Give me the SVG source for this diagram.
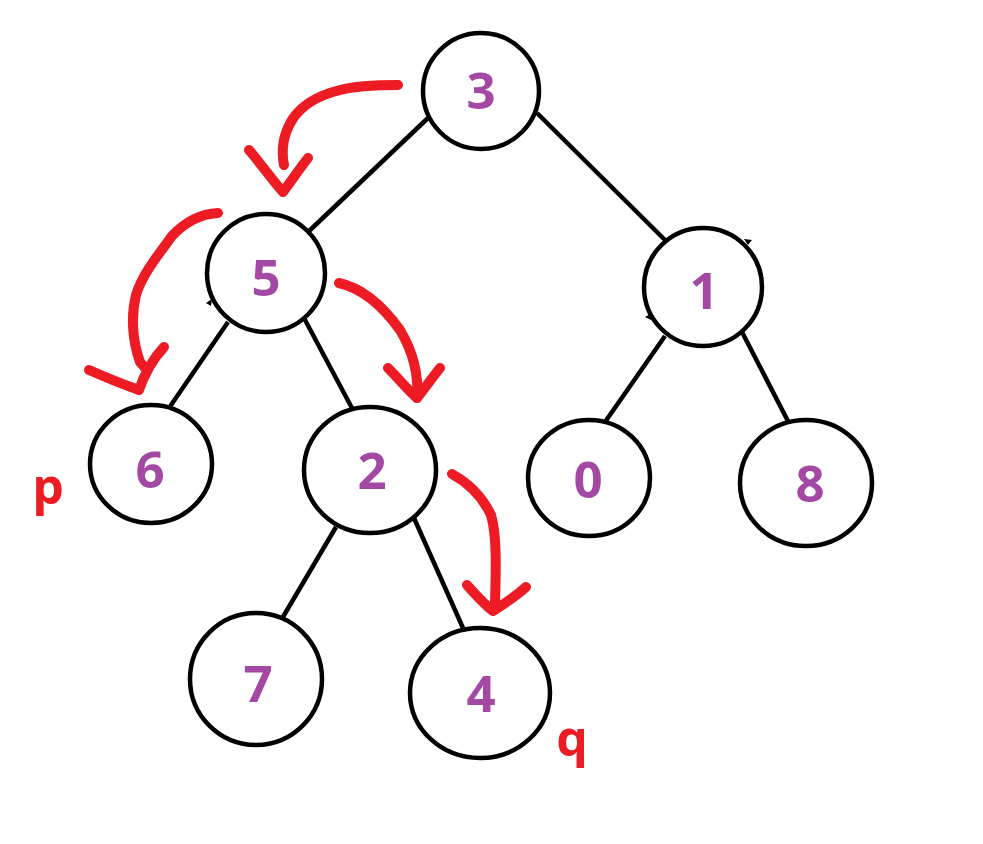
<svg xmlns="http://www.w3.org/2000/svg" width="983" height="844" viewBox="0 0 983 844">
<style>
.node{fill:#fff;stroke:#000;stroke-width:4.5}
.edge{stroke:#000;stroke-width:4.5;fill:none;stroke-linecap:butt}
.lbl{font-family:"Open Sans","Noto Sans",sans-serif;font-weight:700;font-size:51px;fill:#A349A4;text-anchor:middle}
.red{stroke:#ED1C24;stroke-width:10;fill:none;stroke-linecap:round;stroke-linejoin:round}
.pq{font-family:"Open Sans","Noto Sans",sans-serif;font-weight:700;font-size:50px;fill:#ED1C24;text-anchor:middle}
</style>
<rect width="983" height="844" fill="#fff"/>
<g id="connectors">
<line class="edge" x1="428" y1="118" x2="307" y2="233"/>
<line class="edge" x1="537" y1="113" x2="665" y2="240"/>
<line class="edge" x1="228" y1="322" x2="169" y2="408"/>
<line class="edge" x1="304" y1="318" x2="353" y2="410"/>
<line class="edge" x1="336" y1="527" x2="280" y2="622"/>
<line class="edge" x1="414" y1="518" x2="463" y2="628"/>
<line class="edge" x1="665" y1="336" x2="605" y2="422"/>
<line class="edge" x1="742" y1="332" x2="791" y2="427"/>
<path d="M206 303 l6 -4 l-1 7 z M645 317 l7 -4 l-1 7 z M744 239 l8 1 l-4 5 z" fill="#000"/>
</g>
<g id="node-3"><ellipse class="node" cx="481" cy="91" rx="58" ry="58"/><text class="lbl" x="481" y="109">3</text></g>
<g id="node-5"><ellipse class="node" cx="266" cy="273" rx="59" ry="59"/><text class="lbl" x="266" y="296">5</text></g>
<g id="node-1"><ellipse class="node" cx="703" cy="287" rx="59" ry="59"/><text class="lbl" x="704" y="309">1</text></g>
<g id="node-6"><ellipse class="node" cx="151" cy="464" rx="61" ry="59"/><text class="lbl" x="150" y="488">6</text></g>
<g id="node-2"><ellipse class="node" cx="370" cy="470" rx="66" ry="63"/><text class="lbl" x="372" y="489">2</text></g>
<g id="node-0"><ellipse class="node" cx="589" cy="478" rx="61" ry="58"/><text class="lbl" x="588" y="498">0</text></g>
<g id="node-8"><ellipse class="node" cx="806" cy="483" rx="66" ry="63"/><text class="lbl" x="810" y="502">8</text></g>
<g id="node-7"><ellipse class="node" cx="256" cy="679" rx="66" ry="66"/><text class="lbl" x="258" y="702">7</text></g>
<g id="node-4"><ellipse class="node" cx="480" cy="693" rx="70" ry="65"/><text class="lbl" x="481" y="712">4</text></g>
<g id="annotations">
<path class="red" d="M398 85 C375 85 355 86 340 90 C320 95 302 104 292 120 C283 135 281 150 284 165"/>
<path class="red" d="M249 150 C262 165 272 180 283 192 C292 180 300 168 308 158"/>
<path class="red" d="M218 213 C200 214 185 222 172 236 C158 255 142 275 136 295 C131 315 132 340 140 362 L147 370"/>
<path class="red" d="M89 370 C105 377 122 384 139 390 C144 375 152 360 164 347"/>
<path class="red" d="M339 283 C362 288 382 305 400 330 C412 350 419 372 417 398"/>
<path class="red" d="M388 368 C398 378 408 390 417 398 C425 388 432 378 440 368"/>
<path class="red" d="M452 474 C470 484 483 498 491 515 C497 535 496 570 495 603"/>
<path class="red" d="M467 585 C476 595 484 604 493 611 C504 604 515 597 526 587"/>
<text class="pq" x="48" y="504">p</text>
<text class="pq" x="572" y="756">q</text>
</g>
</svg>
